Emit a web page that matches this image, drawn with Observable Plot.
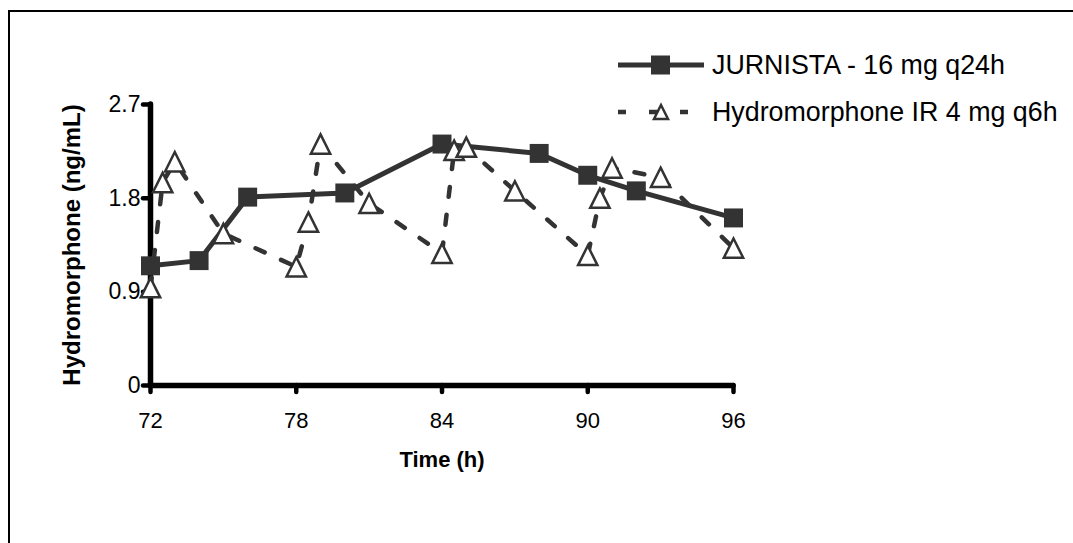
<!DOCTYPE html>
<html><head><meta charset="utf-8">
<script src="https://cdn.jsdelivr.net/npm/d3@7"></script>
<script src="https://cdn.jsdelivr.net/npm/@observablehq/plot@0.6"></script>
<style>
html,body{margin:0;padding:0;background:#fff;overflow:hidden}
#wrap{position:relative;width:1073px;height:543px;overflow:hidden}
#frame{position:absolute;left:8px;top:10px;width:1200px;height:700px;border-left:2px solid #000;border-top:2px solid #000;box-sizing:border-box}
#chart{position:absolute;left:0;top:0}
</style></head><body><div id="wrap"><div id="frame"></div><div id="chart"></div></div>
<script>
const jurnistaTime = [72,74,76,80,84,88,90,92,96];
const jurnistaConc = [1.15,1.20,1.81,1.85,2.32,2.23,2.02,1.87,1.61];
const irTime = [72,72.5,73,75,78,78.5,79,81,84,84.5,85,87,90,90.5,91,93,96];
const irConc = [0.94,1.95,2.15,1.46,1.14,1.57,2.32,1.75,1.27,2.26,2.29,1.87,1.25,1.80,2.09,2.00,1.32];
const xTicks = [72,78,84,90,96];
const yTicks = [0,0.9,1.8,2.7];
const yTickLabels = ["0","0.9","1.8","2.7"];
const seriesNames = ["JURNISTA - 16 mg q24h","Hydromorphone IR 4 mg q6h"];
const xLabel = "Time (h)";
const yLabel = "Hydromorphone (ng/mL)";

const ink = "#333333";
const font = "'Liberation Sans', Arial, sans-serif";
const jData = jurnistaTime.map((t,i)=>({t, c: jurnistaConc[i]}));
const iData = irTime.map((t,i)=>({t, c: irConc[i]}));

const triangle = {draw(ctx, size){ const h = Math.sqrt(size)*0.53; ctx.moveTo(0,-h); ctx.lineTo(h,h); ctx.lineTo(-h,h); ctx.closePath(); }};

const chart = Plot.plot({
  width:1073, height:543,
  marginLeft:150, marginRight:340, marginTop:104, marginBottom:158,
  style:{fontFamily:font, background:"transparent", color:"#000"},
  x:{domain:[72,96]},
  y:{domain:[0,2.7]},
  marks:[
    Plot.axisX({ticks:xTicks, tickSize:7, tickPadding:20, strokeWidth:4.5, strokeLinecap:"round", fontSize:22, label:null, stroke:"#000", fill:"#000"}),
    Plot.axisY({ticks:yTicks, tickFormat:(d)=>yTickLabels[yTicks.indexOf(d)], tickSize:7, tickPadding:3, strokeWidth:4.5, strokeLinecap:"round", fontSize:23, label:null, stroke:"#000", fill:"#000"}),
    Plot.ruleY([0], {stroke:"#000", strokeWidth:5.5, strokeLinecap:"round"}),
    Plot.ruleX([72], {stroke:"#000", strokeWidth:5.5, strokeLinecap:"round"}),
    Plot.text([xLabel], {frameAnchor:"bottom", dy:81, textAnchor:"middle", fontWeight:"bold", fontSize:22, fill:"#000"}),
    Plot.text([yLabel], {frameAnchor:"left", rotate:-90, dx:-78, textAnchor:"middle", lineAnchor:"middle", fontWeight:"bold", fontSize:24, fill:"#000"}),
    Plot.line(jData, {x:"t", y:"c", stroke:ink, strokeWidth:5}),
    Plot.dot(jData, {x:"t", y:"c", symbol:"square", r:10.7, fill:ink, stroke:"none"}),
    Plot.line(iData, {x:"t", y:"c", stroke:ink, strokeWidth:4.5, strokeDasharray:"10,18"}),
    Plot.dot(iData, {x:"t", y:"c", symbol:triangle, r:10.3, fill:"#fff", stroke:ink, strokeWidth:2.5})
  ]
});
document.getElementById("chart").appendChild(chart);

// legend
const svg = d3.select(chart);
const lg = svg.append("g").attr("font-family", font).attr("font-size", 26.8).attr("text-anchor","start");
const rows = [{y:65, name:seriesNames[0], dash:null, sym:"square"},{y:112, name:seriesNames[1], dash:"8,23", sym:"triangle"}];
rows.forEach(r => {
  lg.append("line").attr("x1",618).attr("x2",704).attr("y1",r.y).attr("y2",r.y)
    .attr("stroke",ink).attr("stroke-width", r.dash ? 4.5 : 5).attr("stroke-dasharray", r.dash);
  if (r.sym === "square") {
    lg.append("rect").attr("x",651).attr("y",r.y-9.5).attr("width",19).attr("height",19).attr("fill",ink);
  } else {
    lg.append("path").attr("d", `M661,${r.y-7}L668,${r.y+7}L654,${r.y+7}Z`).attr("fill","#fff").attr("stroke",ink).attr("stroke-width",2.5);
  }
  lg.append("text").attr("x",712).attr("y",r.y).attr("dy","0.35em").attr("text-anchor","start").attr("fill","#000").text(r.name);
});
</script></body></html>
